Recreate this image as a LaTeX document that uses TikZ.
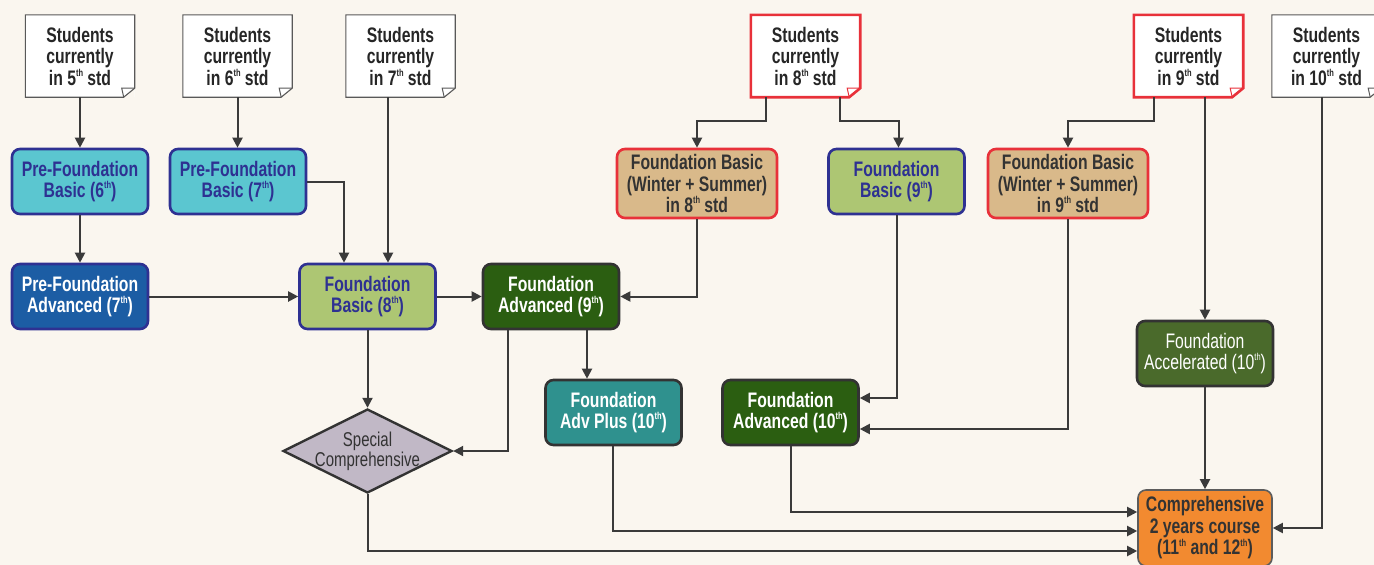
\documentclass[tikz,border=0pt]{standalone}
\usepackage{fontspec}
\setmainfont[FakeStretch=0.75]{Liberation Sans}
\usetikzlibrary{shapes.geometric,arrows.meta,calc}
\definecolor{bgc}{HTML}{FAF6EF}
\definecolor{cyanf}{HTML}{5BC6D0}
\definecolor{blueb}{HTML}{2E3192}
\definecolor{bluef}{HTML}{1C5DA4}
\definecolor{lgreen}{HTML}{ADC673}
\definecolor{dgreen}{HTML}{2B5E11}
\definecolor{tanf}{HTML}{D9B98A}
\definecolor{redb}{HTML}{E8313A}
\definecolor{tealf}{HTML}{2F918E}
\definecolor{olivef}{HTML}{4A6A2B}
\definecolor{orangef}{HTML}{F28A30}
\definecolor{diamf}{HTML}{C1B8C6}
\definecolor{darkb}{HTML}{333333}
\definecolor{arrc}{HTML}{3A3A3A}
\newcommand\sth{\raisebox{0.8ex}{\fontsize{10}{10}\selectfont th}}
\tikzset{
  box/.style={rounded corners=8pt, minimum width=136pt, minimum height=65pt,
    align=center, inner sep=0pt, line width=2.6pt,
    font=\bfseries\fontsize{21}{21.5}\selectfont},
  pfbasic/.style={box, fill=cyanf, draw=blueb, text=blueb},
  pfadv/.style={box, fill=bluef, draw=blueb, text=white},
  fbasic/.style={box, fill=lgreen, draw=blueb, text=blueb},
  fadv/.style={box, fill=dgreen, draw=darkb, text=white},
  fws/.style={box, fill=tanf, draw=redb, text=darkb, minimum width=160pt, minimum height=69pt},
  fplus/.style={box, fill=tealf, draw=darkb, text=white},
  facc/.style={box, fill=olivef, draw=darkb, text=white, font=\fontsize{21}{21.5}\selectfont},
  compb/.style={box, fill=orangef, draw=darkb!80, text=darkb, minimum width=134pt, minimum height=76pt, line width=1.6pt},
  notebox/.style={minimum width=109pt, minimum height=82pt, align=center, inner sep=0pt,
    fill=white, text=black!85, font=\bfseries\fontsize{21}{21.5}\selectfont},
  noteline/.style={draw=black!65, line width=1.1pt, line join=miter},
  notered/.style={draw=redb, line width=2.6pt, line join=miter},
  arr/.style={draw=arrc, line width=2pt, -{Triangle[length=10pt,width=10pt]}},
}
\newcommand\notefold[2]{%
  \fill[bgc] ([xshift=-12pt]#1.south east) -- (#1.south east) -- ([yshift=9pt]#1.south east) -- cycle;
  \draw[#2] (#1.north west) -- (#1.north east) -- ([yshift=9pt]#1.south east)
     -- ([xshift=-11pt]#1.south east) -- (#1.south west) -- cycle;
  \draw[#2, line width=1pt] ([xshift=-11pt]#1.south east) -- ([xshift=-13pt,yshift=9pt]#1.south east) -- ([yshift=9pt]#1.south east);
}
\begin{document}
\begin{tikzpicture}[x=1pt,y=-1pt]
\fill[bgc] (0,0) rectangle (1374,565);
\useasboundingbox (0,0) rectangle (1374,565);

% student notes
\node[notebox] (s5) at (80,56) {Students\\currently\\in 5\sth{} std};
\node[notebox] (s6) at (237.5,56) {Students\\currently\\in 6\sth{} std};
\node[notebox] (s7) at (400.5,56) {Students\\currently\\in 7\sth{} std};
\node[notebox] (s8) at (805.5,56) {Students\\currently\\in 8\sth{} std};
\node[notebox] (s9) at (1188.5,56) {Students\\currently\\in 9\sth{} std};
\node[notebox] (s10) at (1326.5,56) {Students\\currently\\in 10\sth{} std};
\notefold{s5}{noteline}
\notefold{s6}{noteline}
\notefold{s7}{noteline}
\notefold{s8}{notered}
\notefold{s9}{notered}
\notefold{s10}{noteline}

% row 2
\node[pfbasic] (pfb6) at (80,181.5) {Pre-Foundation\\Basic (6\sth)};
\node[pfbasic] (pfb7) at (238,181.5) {Pre-Foundation\\Basic (7\sth)};
\node[fws] (fws8) at (697,183.5) {Foundation Basic\\(Winter + Summer)\\in 8\sth{} std};
\node[fbasic] (fb9) at (896.5,181.5) {Foundation\\Basic (9\sth)};
\node[fws] (fws9) at (1068,183.5) {Foundation Basic\\(Winter + Summer)\\in 9\sth{} std};

% row 3
\node[pfadv] (pfa7) at (80,296.5) {Pre-Foundation\\Advanced (7\sth)};
\node[fbasic] (fb8) at (367.5,296.5) {Foundation\\Basic (8\sth)};
\node[fadv] (fa9) at (551,296.5) {Foundation\\Advanced (9\sth)};
\node[facc] (facc) at (1205,353.5) {Foundation\\Accelerated (10\sth)};

% row 4
\node[fplus] (fap10) at (613.5,412.5) {Foundation\\Adv Plus (10\sth)};
\node[fadv] (fa10) at (790.5,412.5) {Foundation\\Advanced (10\sth)};
\node[diamond, aspect=2, minimum width=169pt, minimum height=84pt, inner sep=0pt,
      fill=diamf, draw=darkb, line width=2.4pt] (sc) at (367.5,451) {};
\node[align=center, text=darkb, font=\fontsize{20}{20}\selectfont] (sct) at (sc.center) {Special\\Comprehensive};

% comprehensive
\node[compb] (comp) at (1205,528) {Comprehensive\\2 years course\\(11\sth{} and 12\sth)};

% connectors
\draw[arr] (s5.south) -- (pfb6.north);
\draw[arr] (s6.south) -- (s6.south |- pfb7.north);
\draw[arr] (pfb6.south) -- (pfa7.north);
\draw[arr] (pfb7.east) -| ([xshift=-23.5pt]fb8.north);
\draw[arr] ([xshift=-12.5pt]s7.south) -- ([xshift=-12.5pt]s7.south |- fb8.north);
\draw[arr] (pfa7.east) -- (fb8.west);
\draw[arr] (fb8.east) -- (fa9.west);
\draw[arr] (fws8.south) |- (fa9.east);
\draw[arr] ([xshift=-39.5pt]s8.south) -- ++(0,24) -| (fws8.north);
\draw[arr] ([xshift=34.5pt]s8.south) -- ++(0,24) -| ([xshift=2pt]fb9.north);
\draw[arr] ([xshift=-34.5pt]s9.south) -- ++(0,24) -| (fws9.north);
\draw[arr] (s9.south -| facc.north) -- (facc.north);
\draw[arr] ([xshift=-4.5pt]s10.south) |- (comp.east);
\draw[arr] (fb9.south) |- ([yshift=14.5pt]fa10.east);
\draw[arr] (fws9.south) |- ([yshift=-16.5pt]fa10.east);
\draw[arr] ([xshift=36pt]fa9.south) -- ([xshift=36pt]fa9.south |- fap10.north);
\draw[arr] ([xshift=-43pt]fa9.south) |- (sc.east);
\draw[arr] (fb8.south) -- (sc.north);
\draw[arr] (facc.south) -- (comp.north);
\draw[arr] (fa10.south) |- ([yshift=16pt]comp.west);
\draw[arr] ([xshift=-1pt]fap10.south) |- ([yshift=-3pt]comp.west);
\draw[arr] (sc.south) |- ([yshift=-23pt]comp.west);
\end{tikzpicture}
\end{document}
